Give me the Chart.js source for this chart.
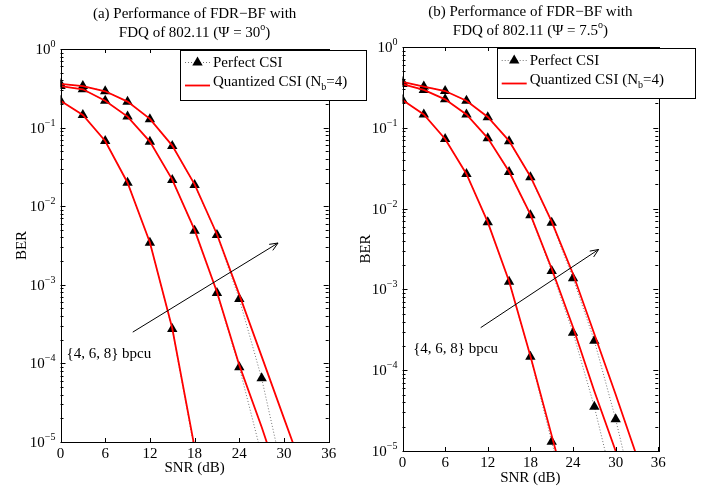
<!DOCTYPE html>
<html>
<head>
<meta charset="utf-8">
<script src="https://cdn.jsdelivr.net/npm/chart.js@4.4.0/dist/chart.umd.min.js"></script>
<style>
  html, body { margin: 0; padding: 0; background: #fff; }
  #wrap { position: relative; width: 704px; height: 489px; overflow: hidden; }
  .box { position: absolute; top: 0; height: 489px; }
  #boxA { left: 0; width: 370px; }
  #boxB { left: 350px; width: 354px; }
</style>
</head>
<body>
<div id="wrap">
  <div class="box" id="boxB"><canvas id="chartB" width="354" height="489"></canvas></div>
  <div class="box" id="boxA"><canvas id="chartA" width="370" height="489"></canvas></div>
</div>
<script>
// SNR points (dB), one marker every 3 dB
const snr = [0, 3, 6, 9, 12, 15, 18, 21, 24, 27, 30, 33, 36];
const xTicks = [0, 6, 12, 18, 24, 30, 36];
const yExps = [0, -1, -2, -3, -4, -5];

// (a) Psi = 30 deg  -- curves for 4, 6, 8 bpcu
const perfectA4 = [0.22, 0.145, 0.0676, 0.0199, 0.00344, 0.000274, 0.0000078];
const quantA4   = [0.22, 0.145, 0.0676, 0.0199, 0.00346, 0.00028, 0.0000085];
const perfectA6 = [0.338, 0.307, 0.22, 0.138, 0.0662, 0.0216, 0.00488, 0.000787, 0.0000892, 0.0000068];
const quantA6   = [0.338, 0.307, 0.22, 0.138, 0.0665, 0.0218, 0.0050, 0.00081, 0.000095, 0.0000155, 0.0000022];
const perfectA8 = [0.359, 0.338, 0.29, 0.214, 0.128, 0.0583, 0.0186, 0.0043, 0.000659, 0.0000646, 0.0000034];
const quantA8   = [0.359, 0.338, 0.29, 0.214, 0.129, 0.059, 0.019, 0.0044, 0.00075, 0.000123, 0.00002, 0.0000033];

// (b) Psi = 7.5 deg
const perfectB4 = [0.221, 0.146, 0.0727, 0.0268, 0.00677, 0.00124, 0.000147, 0.000013, 0.0000012];
const quantB4   = [0.221, 0.146, 0.0727, 0.0268, 0.0068, 0.00126, 0.00015, 0.0000155, 0.0000016];
const perfectB6 = [0.348, 0.294, 0.225, 0.146, 0.0741, 0.0284, 0.00826, 0.00169, 0.000291, 0.0000353, 0.0000029];
const quantB6   = [0.348, 0.294, 0.225, 0.146, 0.0745, 0.0288, 0.0085, 0.0018, 0.00034, 0.000055, 0.00001, 0.0000018];
const perfectB8 = [0.369, 0.324, 0.285, 0.216, 0.135, 0.068, 0.0244, 0.00669, 0.00137, 0.000232, 0.0000247, 0.0000019];
const quantB8   = [0.369, 0.324, 0.285, 0.216, 0.136, 0.069, 0.025, 0.0069, 0.00155, 0.00028, 0.00005, 0.0000085, 0.0000012];

const legendPerfect = 'Perfect CSI';
const legendQuant = ['Quantized CSI (N', 'b', '=4)'];
const noteText = '{4, 6, 8} bpcu';

const SERIF = '"Liberation Serif", "Times New Roman", serif';

function series(vals) {
  return vals.map((v, i) => ({ x: snr[i], y: v }));
}

function buildDatasets(perf, quant) {
  const ds = [];
  // red quantized lines first so they sit on top
  quant.forEach(q => ds.push({
    data: series(q), borderColor: '#ff0000', borderWidth: 1.8,
    pointRadius: 0, tension: 0, fill: false
  }));
  perf.forEach(p => ds.push({
    data: series(p), borderColor: 'rgba(0,0,0,0.55)', borderWidth: 1, borderDash: [1, 2],
    pointStyle: 'triangle', pointRadius: c => (c.raw && c.raw.y >= 1e-5 ? 6 : 0),
    pointBackgroundColor: '#000', pointBorderColor: '#000', pointBorderWidth: 0,
    tension: 0, fill: false
  }));
  return ds;
}

// draw text made of pieces [text, size, dy]
function drawRich(ctx, parts, x, y, align) {
  let w = 0;
  parts.forEach(p => { ctx.font = p[1] + 'px ' + SERIF; w += ctx.measureText(p[0]).width; });
  let cx = align === 'right' ? x - w : (align === 'center' ? x - w / 2 : x);
  ctx.textAlign = 'left';
  ctx.textBaseline = 'alphabetic';
  parts.forEach(p => {
    ctx.font = p[1] + 'px ' + SERIF;
    ctx.fillText(p[0], cx, y + p[2]);
    cx += ctx.measureText(p[0]).width;
  });
}

const decoPlugin = {
  id: 'deco',
  afterDraw(chart, args, o) {
    const ctx = chart.ctx, a = chart.chartArea;
    const xs = chart.scales.x, ys = chart.scales.y;
    const snap = v => Math.round(v) + 0.5;
    ctx.save();
    ctx.strokeStyle = '#000';
    ctx.fillStyle = '#000';
    ctx.lineWidth = 1;

    // axes box
    ctx.strokeRect(snap(a.left), snap(a.top), Math.round(a.right - a.left), Math.round(a.bottom - a.top));

    // inward ticks
    ctx.beginPath();
    xTicks.forEach(v => {
      const px = snap(xs.getPixelForValue(v));
      ctx.moveTo(px, a.bottom); ctx.lineTo(px, a.bottom - 4);
      ctx.moveTo(px, a.top); ctx.lineTo(px, a.top + 4);
    });
    yExps.forEach(e => {
      for (let m = 1; m < 10; m++) {
        const v = m * Math.pow(10, e);
        if (v > 1.0001) break;
        const py = snap(ys.getPixelForValue(v));
        const len = m === 1 ? 5 : 3;
        ctx.moveTo(a.left, py); ctx.lineTo(a.left + len, py);
        ctx.moveTo(a.right, py); ctx.lineTo(a.right - len, py);
      }
    });
    ctx.stroke();

    // y tick labels 10^k
    yExps.forEach(e => {
      const py = ys.getPixelForValue(Math.pow(10, e));
      const exp = e === 0 ? '0' : '\u2212' + (-e);
      drawRich(ctx, [['10', 15, 0], [exp, 10, -7]], a.left - 5, py + 5, 'right');
    });

    // title
    const cx = (a.left + a.right) / 2;
    drawRich(ctx, [[o.title1, 15, 0]], cx, a.top - 31, 'center');
    drawRich(ctx, [[o.title2, 15, 0], ['o', 10, -7], [')', 15, 0]], cx, a.top - 12, 'center');

    // arrow + note
    const x0 = xs.getPixelForValue(o.arrow[0][0]), y0 = ys.getPixelForValue(o.arrow[0][1]);
    const x1 = xs.getPixelForValue(o.arrow[1][0]), y1 = ys.getPixelForValue(o.arrow[1][1]);
    const ang = Math.atan2(y1 - y0, x1 - x0);
    ctx.beginPath();
    ctx.moveTo(x0, y0); ctx.lineTo(x1, y1);
    ctx.moveTo(x1 - 9 * Math.cos(ang - 0.4), y1 - 9 * Math.sin(ang - 0.4));
    ctx.lineTo(x1, y1);
    ctx.lineTo(x1 - 9 * Math.cos(ang + 0.4), y1 - 9 * Math.sin(ang + 0.4));
    ctx.stroke();
    const nx = xs.getPixelForValue(o.note[0]), ny = ys.getPixelForValue(o.note[1]);
    drawRich(ctx, [[noteText, 15, 0]], nx, ny + 5, 'left');

    // legend box
    const L = a.left + o.legX, T = o.legY, W = o.legW, H = 50;
    ctx.fillStyle = '#fff';
    ctx.fillRect(L, T, W, H);
    ctx.strokeRect(snap(L), snap(T), W, H);
    ctx.fillStyle = '#000';
    // row 1: dotted line with triangle
    ctx.save();
    ctx.strokeStyle = 'rgba(0,0,0,0.55)';
    ctx.setLineDash([1, 2]);
    ctx.beginPath();
    ctx.moveTo(L + 5, T + 12.5); ctx.lineTo(L + 30, T + 12.5);
    ctx.stroke();
    ctx.restore();
    const tx = L + 17.5, ty = T + 12.5, r = 6;
    ctx.beginPath();
    ctx.moveTo(tx, ty - r);
    ctx.lineTo(tx + r * Math.sin(2.0944), ty - r * Math.cos(2.0944));
    ctx.lineTo(tx + r * Math.sin(4.1888), ty - r * Math.cos(4.1888));
    ctx.closePath();
    ctx.fill();
    drawRich(ctx, [[legendPerfect, 15, 0]], L + 33, T + 17, 'left');
    // row 2: red line
    ctx.strokeStyle = '#ff0000';
    ctx.lineWidth = 1.8;
    ctx.beginPath();
    ctx.moveTo(L + 5, T + 35.5); ctx.lineTo(L + 30, T + 35.5);
    ctx.stroke();
    drawRich(ctx, [[legendQuant[0], 15, 0], [legendQuant[1], 10, 4], [legendQuant[2], 15, 0]], L + 33, T + 36, 'left');
    ctx.restore();
  }
};

function makeChart(id, perf, quant, cfg) {
  return new Chart(document.getElementById(id), {
    type: 'line',
    data: { datasets: buildDatasets(perf, quant) },
    options: {
      responsive: false,
      animation: false,
      events: [],
      layout: { padding: { top: cfg.top, right: cfg.right, left: 0, bottom: 0 } },
      scales: {
        x: {
          type: 'linear', min: 0, max: 36,
          ticks: { stepSize: 6, color: '#000', padding: 3, font: { family: SERIF, size: 15 } },
          grid: { display: false, drawTicks: false },
          border: { display: false },
          title: { display: true, text: 'SNR (dB)', color: '#000', font: { family: SERIF, size: 15 }, padding: { top: 0, bottom: cfg.xtp } },
          afterFit: s => { s.height = cfg.xh; }
        },
        y: {
          type: 'logarithmic', min: 1e-5, max: 1,
          ticks: { display: false },
          grid: { display: false, drawTicks: false },
          border: { display: false },
          title: { display: true, text: 'BER', color: '#000', font: { family: SERIF, size: 15 }, padding: { top: cfg.ytp, bottom: 0 } },
          afterFit: s => { s.width = cfg.yw; }
        }
      },
      plugins: {
        legend: { display: false },
        tooltip: { enabled: false },
        deco: cfg.deco
      }
    },
    plugins: [decoPlugin]
  });
}

makeChart('chartA', [perfectA4, perfectA6, perfectA8], [quantA4, quantA6, quantA8], {
  top: 49, right: 41.3, xh: 47, yw: 60.5, xtp: 12, ytp: 13,
  deco: {
    title1: '(a) Performance of FDR\u2212BF with',
    title2: 'FDQ of 802.11 (\u03A8 = 30',
    arrow: [[9.7, 2.5e-4], [29.2, 3.4e-3]],
    note: [0.8, 1.36e-4],
    legX: 119.5, legY: 50, legW: 186
  }
});

makeChart('chartB', [perfectB4, perfectB6, perfectB8], [quantB4, quantB6, quantB8], {
  top: 47, right: 45.7, xh: 38, yw: 52.5, xtp: 1.7, ytp: 7,
  deco: {
    title1: '(b) Performance of FDR\u2212BF with',
    title2: 'FDQ of 802.11 (\u03A8 = 7.5',
    arrow: [[11.0, 3.36e-4], [27.6, 3.12e-3]],
    note: [1.5, 1.88e-4],
    legX: 94.2, legY: 48, legW: 198
  }
});
</script>
</body>
</html>
